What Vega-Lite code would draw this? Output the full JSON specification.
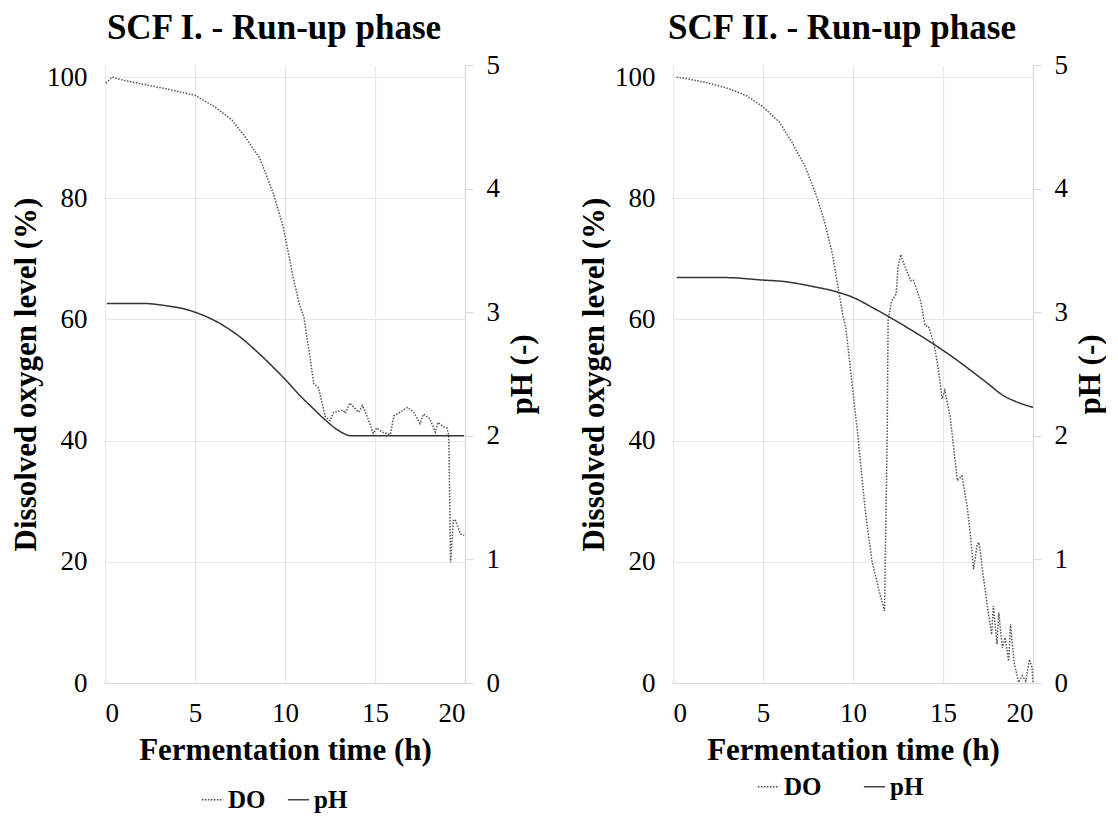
{
  "$schema": "https://vega.github.io/schema/vega-lite/v6.json",
  "background": "white",
  "padding": {"left": 10, "top": 11, "right": 0, "bottom": 0},
  "spacing": 40,
  "config": {
    "font": "Liberation Serif",
    "view": {"stroke": null},
    "style": {"guide-label": {"font": "Liberation Serif"}, "guide-title": {"font": "Liberation Serif"}},
    "axis": {
      "labelFont": "Liberation Serif", "labelFontSize": 27, "labelColor": "#000",
      "titleFont": "Liberation Serif", "titleFontSize": 31, "titleFontWeight": "bold", "titleColor": "#000",
      "gridColor": "#e8e8e8", "gridWidth": 1.2, "domainColor": "#d9d9d9", "domainWidth": 1.2, "tickColor": "#d9d9d9", "tickWidth": 1.2
    },
    "title": {"font": "Liberation Serif", "fontSize": 35, "fontWeight": "bold", "color": "#000"},
    "legend": {
      "labelFont": "Liberation Serif", "labelFontSize": 25, "labelFontWeight": "bold", "labelColor": "#000",
      "symbolType": "stroke", "symbolSize": 450, "symbolStrokeWidth": 1.5, "symbolStrokeColor": "#444",
      "direction": "horizontal", "orient": "none", "title": null, "labelOffset": 3, "columnPadding": 18
    }
  },
  "datasets": {
    "d": [
      {"p": "I", "s": "DO", "t": 0.05, "v": 99.0},
      {"p": "I", "s": "DO", "t": 0.4, "v": 100.0},
      {"p": "I", "s": "DO", "t": 1.0, "v": 99.5},
      {"p": "I", "s": "DO", "t": 2.15, "v": 98.8},
      {"p": "I", "s": "DO", "t": 3.5, "v": 98.0},
      {"p": "I", "s": "DO", "t": 5.0, "v": 97.0},
      {"p": "I", "s": "DO", "t": 6.1, "v": 95.1},
      {"p": "I", "s": "DO", "t": 7.05, "v": 92.9},
      {"p": "I", "s": "DO", "t": 7.8, "v": 90.1},
      {"p": "I", "s": "DO", "t": 8.6, "v": 86.6},
      {"p": "I", "s": "DO", "t": 9.35, "v": 80.8},
      {"p": "I", "s": "DO", "t": 9.9, "v": 75.3},
      {"p": "I", "s": "DO", "t": 10.45, "v": 67.0},
      {"p": "I", "s": "DO", "t": 10.8, "v": 62.5},
      {"p": "I", "s": "DO", "t": 11.05, "v": 60.4},
      {"p": "I", "s": "DO", "t": 11.35, "v": 54.5},
      {"p": "I", "s": "DO", "t": 11.6, "v": 49.4},
      {"p": "I", "s": "DO", "t": 11.85, "v": 48.8},
      {"p": "I", "s": "DO", "t": 12.25, "v": 43.9},
      {"p": "I", "s": "DO", "t": 12.5, "v": 43.3},
      {"p": "I", "s": "DO", "t": 12.7, "v": 44.7},
      {"p": "I", "s": "DO", "t": 13.25, "v": 45.0},
      {"p": "I", "s": "DO", "t": 13.35, "v": 44.5},
      {"p": "I", "s": "DO", "t": 13.6, "v": 46.2},
      {"p": "I", "s": "DO", "t": 14.1, "v": 44.7},
      {"p": "I", "s": "DO", "t": 14.3, "v": 45.8},
      {"p": "I", "s": "DO", "t": 14.55, "v": 44.1},
      {"p": "I", "s": "DO", "t": 14.9, "v": 41.2},
      {"p": "I", "s": "DO", "t": 15.1, "v": 42.1},
      {"p": "I", "s": "DO", "t": 15.4, "v": 41.4},
      {"p": "I", "s": "DO", "t": 15.85, "v": 41.0},
      {"p": "I", "s": "DO", "t": 16.05, "v": 44.1},
      {"p": "I", "s": "DO", "t": 16.4, "v": 44.7},
      {"p": "I", "s": "DO", "t": 16.8, "v": 45.5},
      {"p": "I", "s": "DO", "t": 17.15, "v": 44.7},
      {"p": "I", "s": "DO", "t": 17.5, "v": 42.8},
      {"p": "I", "s": "DO", "t": 17.7, "v": 44.4},
      {"p": "I", "s": "DO", "t": 18.05, "v": 43.6},
      {"p": "I", "s": "DO", "t": 18.35, "v": 41.4},
      {"p": "I", "s": "DO", "t": 18.5, "v": 43.0},
      {"p": "I", "s": "DO", "t": 18.8, "v": 42.3},
      {"p": "I", "s": "DO", "t": 19.0, "v": 42.1},
      {"p": "I", "s": "DO", "t": 19.1, "v": 40.8},
      {"p": "I", "s": "DO", "t": 19.2, "v": 19.9},
      {"p": "I", "s": "DO", "t": 19.35, "v": 26.8},
      {"p": "I", "s": "DO", "t": 19.45, "v": 27.0},
      {"p": "I", "s": "DO", "t": 19.75, "v": 24.6},
      {"p": "I", "s": "DO", "t": 19.95, "v": 24.4},
      {"p": "I", "s": "pH", "t": 0.1, "v": 3.07},
      {"p": "I", "s": "pH", "t": 2.2, "v": 3.07},
      {"p": "I", "s": "pH", "t": 3.5, "v": 3.05},
      {"p": "I", "s": "pH", "t": 4.3, "v": 3.03},
      {"p": "I", "s": "pH", "t": 5.0, "v": 3.0},
      {"p": "I", "s": "pH", "t": 5.7, "v": 2.96},
      {"p": "I", "s": "pH", "t": 6.6, "v": 2.89},
      {"p": "I", "s": "pH", "t": 7.5, "v": 2.8},
      {"p": "I", "s": "pH", "t": 8.3, "v": 2.7},
      {"p": "I", "s": "pH", "t": 9.1, "v": 2.59},
      {"p": "I", "s": "pH", "t": 10.05, "v": 2.45},
      {"p": "I", "s": "pH", "t": 10.8, "v": 2.33},
      {"p": "I", "s": "pH", "t": 11.5, "v": 2.23},
      {"p": "I", "s": "pH", "t": 12.3, "v": 2.12},
      {"p": "I", "s": "pH", "t": 13.0, "v": 2.04},
      {"p": "I", "s": "pH", "t": 13.7, "v": 2.0},
      {"p": "I", "s": "pH", "t": 19.95, "v": 2.0},
      {"p": "II", "s": "DO", "t": 0.2, "v": 100.0},
      {"p": "II", "s": "DO", "t": 1.0, "v": 99.6},
      {"p": "II", "s": "DO", "t": 2.0, "v": 99.0},
      {"p": "II", "s": "DO", "t": 3.1, "v": 98.1},
      {"p": "II", "s": "DO", "t": 4.1, "v": 96.9},
      {"p": "II", "s": "DO", "t": 5.0, "v": 95.1},
      {"p": "II", "s": "DO", "t": 5.9, "v": 92.6},
      {"p": "II", "s": "DO", "t": 6.6, "v": 89.3},
      {"p": "II", "s": "DO", "t": 7.35, "v": 85.2},
      {"p": "II", "s": "DO", "t": 8.0, "v": 80.2},
      {"p": "II", "s": "DO", "t": 8.45, "v": 75.8},
      {"p": "II", "s": "DO", "t": 8.85, "v": 70.9},
      {"p": "II", "s": "DO", "t": 9.2, "v": 64.8},
      {"p": "II", "s": "DO", "t": 9.45, "v": 60.5},
      {"p": "II", "s": "DO", "t": 9.6, "v": 58.7},
      {"p": "II", "s": "DO", "t": 9.95, "v": 49.4},
      {"p": "II", "s": "DO", "t": 10.3, "v": 40.0},
      {"p": "II", "s": "DO", "t": 10.7, "v": 27.9},
      {"p": "II", "s": "DO", "t": 11.05, "v": 20.2},
      {"p": "II", "s": "DO", "t": 11.4, "v": 15.8},
      {"p": "II", "s": "DO", "t": 11.75, "v": 11.9},
      {"p": "II", "s": "DO", "t": 11.9, "v": 41.1},
      {"p": "II", "s": "DO", "t": 11.95, "v": 59.8},
      {"p": "II", "s": "DO", "t": 12.15, "v": 63.1},
      {"p": "II", "s": "DO", "t": 12.4, "v": 64.2},
      {"p": "II", "s": "DO", "t": 12.5, "v": 68.6},
      {"p": "II", "s": "DO", "t": 12.65, "v": 70.7},
      {"p": "II", "s": "DO", "t": 12.9, "v": 68.6},
      {"p": "II", "s": "DO", "t": 13.2, "v": 66.4},
      {"p": "II", "s": "DO", "t": 13.35, "v": 66.5},
      {"p": "II", "s": "DO", "t": 13.75, "v": 63.1},
      {"p": "II", "s": "DO", "t": 14.0, "v": 59.0},
      {"p": "II", "s": "DO", "t": 14.2, "v": 58.8},
      {"p": "II", "s": "DO", "t": 14.5, "v": 56.0},
      {"p": "II", "s": "DO", "t": 14.75, "v": 51.6},
      {"p": "II", "s": "DO", "t": 14.95, "v": 46.9},
      {"p": "II", "s": "DO", "t": 15.1, "v": 48.3},
      {"p": "II", "s": "DO", "t": 15.4, "v": 43.9},
      {"p": "II", "s": "DO", "t": 15.8, "v": 33.4},
      {"p": "II", "s": "DO", "t": 16.05, "v": 34.2},
      {"p": "II", "s": "DO", "t": 16.35, "v": 29.0},
      {"p": "II", "s": "DO", "t": 16.5, "v": 25.1},
      {"p": "II", "s": "DO", "t": 16.7, "v": 18.8},
      {"p": "II", "s": "DO", "t": 16.9, "v": 22.9},
      {"p": "II", "s": "DO", "t": 17.0, "v": 23.2},
      {"p": "II", "s": "DO", "t": 17.25, "v": 17.4},
      {"p": "II", "s": "DO", "t": 17.45, "v": 13.0},
      {"p": "II", "s": "DO", "t": 17.7, "v": 8.0},
      {"p": "II", "s": "DO", "t": 17.8, "v": 12.7},
      {"p": "II", "s": "DO", "t": 18.0, "v": 6.4},
      {"p": "II", "s": "DO", "t": 18.1, "v": 11.6},
      {"p": "II", "s": "DO", "t": 18.3, "v": 5.8},
      {"p": "II", "s": "DO", "t": 18.45, "v": 7.5},
      {"p": "II", "s": "DO", "t": 18.65, "v": 3.6},
      {"p": "II", "s": "DO", "t": 18.75, "v": 9.7},
      {"p": "II", "s": "DO", "t": 18.95, "v": 3.4},
      {"p": "II", "s": "DO", "t": 19.2, "v": 0.1},
      {"p": "II", "s": "DO", "t": 19.4, "v": 1.2},
      {"p": "II", "s": "DO", "t": 19.6, "v": 0.3},
      {"p": "II", "s": "DO", "t": 19.8, "v": 3.9},
      {"p": "II", "s": "DO", "t": 19.95, "v": 2.5},
      {"p": "II", "s": "DO", "t": 20.0, "v": 0.0},
      {"p": "II", "s": "pH", "t": 0.2, "v": 3.28},
      {"p": "II", "s": "pH", "t": 2.9, "v": 3.28},
      {"p": "II", "s": "pH", "t": 5.0, "v": 3.26},
      {"p": "II", "s": "pH", "t": 6.05, "v": 3.25},
      {"p": "II", "s": "pH", "t": 7.7, "v": 3.21},
      {"p": "II", "s": "pH", "t": 9.2, "v": 3.16},
      {"p": "II", "s": "pH", "t": 10.0, "v": 3.12},
      {"p": "II", "s": "pH", "t": 11.05, "v": 3.04},
      {"p": "II", "s": "pH", "t": 12.15, "v": 2.95},
      {"p": "II", "s": "pH", "t": 13.3, "v": 2.85},
      {"p": "II", "s": "pH", "t": 14.5, "v": 2.74},
      {"p": "II", "s": "pH", "t": 15.7, "v": 2.62},
      {"p": "II", "s": "pH", "t": 16.8, "v": 2.5},
      {"p": "II", "s": "pH", "t": 17.6, "v": 2.41},
      {"p": "II", "s": "pH", "t": 18.3, "v": 2.33},
      {"p": "II", "s": "pH", "t": 19.0, "v": 2.28},
      {"p": "II", "s": "pH", "t": 20.0, "v": 2.23}
    ]
  },
  "hconcat": [
    {
      "title": {"text": "SCF I. - Run-up phase", "anchor": "middle", "frame": "bounds", "offset": 5},
      "width": 360, "height": 618,
      "data": {"name": "d"},
      "transform": [{"filter": "datum.p == 'I'"}],
      "layer": [
        {
          "transform": [{"filter": "datum.s == 'DO'"}],
          "mark": {"type": "line", "strokeWidth": 1.5, "color": "#555"},
          "encoding": {
            "x": {"field": "t", "type": "quantitative", "scale": {"domain": [0, 20], "nice": false},
                  "axis": {"values": [0, 5, 10, 15, 20], "title": "Fermentation time (h)", "ticks": false, "labelFont": "Liberation Serif", "labelPadding": 17, "titlePadding": 9}},
            "y": {"field": "v", "type": "quantitative", "scale": {"domain": [0, 102], "nice": false},
                  "axis": {"values": [0, 20, 40, 60, 80, 100], "title": "Dissolved oxygen level (%)", "ticks": false, "domain": false, "labelFont": "Liberation Serif", "labelPadding": 18, "titlePadding": 4}},
            "strokeDash": {"field": "s", "type": "nominal", "scale": {"domain": ["DO", "pH"], "range": [[1.5, 1.5], [1, 0]]},
                           "legend": {"legendX": 95, "legendY": 722}}
          }
        },
        {
          "transform": [{"filter": "datum.s == 'pH'"}],
          "mark": {"type": "line", "strokeWidth": 1.5, "color": "#333", "interpolate": "monotone"},
          "encoding": {
            "x": {"field": "t", "type": "quantitative", "scale": {"domain": [0, 20], "nice": false}},
            "y": {"field": "v", "type": "quantitative", "scale": {"domain": [0, 5], "nice": false},
                  "axis": {"orient": "right", "values": [0, 1, 2, 3, 4, 5], "grid": false, "title": "pH (-)", "titleAngle": -90, "tickSize": 8, "labelFont": "Liberation Serif", "labelPadding": 13, "titlePadding": 39}},
            "strokeDash": {"field": "s", "type": "nominal"}
          }
        }
      ],
      "resolve": {"scale": {"y": "independent"}}
    },
    {
      "title": {"text": "SCF II. - Run-up phase", "anchor": "middle", "frame": "bounds", "offset": 5},
      "width": 360, "height": 618,
      "data": {"name": "d"},
      "transform": [{"filter": "datum.p == 'II'"}],
      "layer": [
        {
          "transform": [{"filter": "datum.s == 'DO'"}],
          "mark": {"type": "line", "strokeWidth": 1.5, "color": "#555"},
          "encoding": {
            "x": {"field": "t", "type": "quantitative", "scale": {"domain": [0, 20], "nice": false},
                  "axis": {"values": [0, 5, 10, 15, 20], "title": "Fermentation time (h)", "ticks": false, "labelFont": "Liberation Serif", "labelPadding": 17, "titlePadding": 9}},
            "y": {"field": "v", "type": "quantitative", "scale": {"domain": [0, 102], "nice": false},
                  "axis": {"values": [0, 20, 40, 60, 80, 100], "title": "Dissolved oxygen level (%)", "ticks": false, "domain": false, "labelFont": "Liberation Serif", "labelPadding": 18, "titlePadding": 4}},
            "strokeDash": {"field": "s", "type": "nominal", "scale": {"domain": ["DO", "pH"], "range": [[1.5, 1.5], [1, 0]]},
                           "legend": {"legendX": 83, "legendY": 709, "columnPadding": 38}}
          }
        },
        {
          "transform": [{"filter": "datum.s == 'pH'"}],
          "mark": {"type": "line", "strokeWidth": 1.5, "color": "#333", "interpolate": "monotone"},
          "encoding": {
            "x": {"field": "t", "type": "quantitative", "scale": {"domain": [0, 20], "nice": false}},
            "y": {"field": "v", "type": "quantitative", "scale": {"domain": [0, 5], "nice": false},
                  "axis": {"orient": "right", "values": [0, 1, 2, 3, 4, 5], "grid": false, "title": "pH (-)", "titleAngle": -90, "tickSize": 8, "labelFont": "Liberation Serif", "labelPadding": 13, "titlePadding": 39}},
            "strokeDash": {"field": "s", "type": "nominal"}
          }
        }
      ],
      "resolve": {"scale": {"y": "independent"}}
    }
  ],
  "resolve": {"scale": {"strokeDash": "independent"}, "legend": {"strokeDash": "independent"}}
}
